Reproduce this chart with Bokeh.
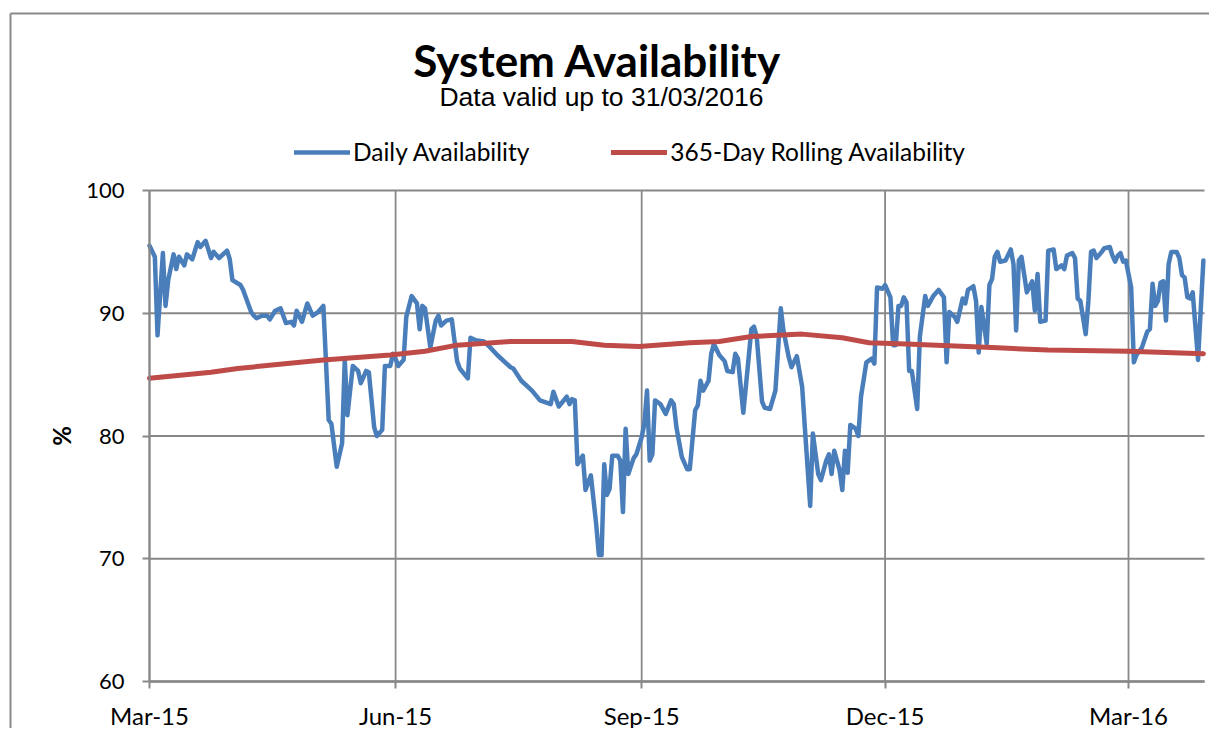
import math
import pandas as pd
from bokeh.plotting import figure
from bokeh.models import Range1d, FixedTicker, Label, Legend, LegendItem
from bokeh.embed import file_html
from bokeh.resources import INLINE

# ---------------- data ----------------
start_date = "2015-03-01"
tick_dates = ["2015-03-01", "2015-06-01", "2015-09-01", "2015-12-01", "2016-03-01"]
tick_labels = ["Mar-15", "Jun-15", "Sep-15", "Dec-15", "Mar-16"]
y_ticks = [60, 70, 80, 90, 100]

# days after 2015-03-01
daily_day = [
    0, 2, 3, 5, 6, 7, 9, 10, 11, 13, 14, 16, 18, 19, 21, 23, 24, 26, 29, 30,
    31, 34, 35, 38, 39, 40, 42, 44, 45, 47, 49, 51, 53, 54, 55, 57, 59, 61, 63, 65,
    67, 68, 70, 72, 73, 74, 76, 78, 79, 81, 82, 84, 85, 87, 88, 90, 91, 92, 93, 95,
    96, 98, 100, 101, 102, 103, 105, 107, 108, 109, 111, 113, 115, 116, 119, 120, 122, 125, 127, 130,
    135, 136, 139, 143, 146, 150, 151, 153, 156, 157, 158, 159, 160, 162, 163, 165, 167, 168, 169, 170,
    171, 172, 173, 175, 176, 177, 178, 179, 181, 182, 184, 185, 186, 187, 188, 189, 191, 193, 195, 196,
    197, 199, 201, 202, 204, 205, 206, 207, 209, 210, 211, 213, 215, 216, 218, 219, 220, 222, 224, 225,
    226, 227, 229, 230, 232, 234, 236, 237, 239, 240, 242, 244, 245, 247, 248, 250, 251, 253, 254, 255,
    256, 258, 259, 260, 261, 262, 264, 265, 266, 268, 270, 271, 272, 274, 275, 277, 278, 279, 280, 281,
    282, 283, 284, 285, 287, 288, 290, 291, 293, 295, 297, 298, 299, 301, 302, 304, 305, 306, 308, 309,
    310, 311, 313, 314, 315, 316, 317, 318, 320, 322, 323, 324, 325, 326, 328, 330, 331, 332, 333, 335,
    336, 338, 339, 341, 342, 343, 345, 346, 347, 348, 350, 351, 352, 353, 354, 356, 357, 359, 360, 361,
    362, 363, 364, 365, 367, 368, 369, 371, 373, 374, 375, 376, 377, 378, 379, 380, 381, 382, 384, 385,
    386, 387, 388, 389, 390, 392, 394,
]
daily_value = [
    95.5, 94.6, 88.2, 94.9, 90.6, 92.7, 94.8, 93.6, 94.6, 93.9, 94.8, 94.4, 95.8, 95.4, 95.9, 94.5, 95.0, 94.5, 95.1, 94.4,
    92.7, 92.3, 91.9, 90.1, 89.8, 89.6, 89.8, 89.8, 89.5, 90.2, 90.4, 89.2, 89.3, 89.0, 90.2, 89.3, 90.8, 89.8, 90.1, 90.6,
    81.3, 81.0, 77.5, 79.4, 86.2, 81.7, 85.7, 85.3, 84.3, 85.3, 85.2, 80.7, 80.0, 80.5, 85.7, 85.7, 86.7, 86.3, 85.7, 86.2,
    89.7, 91.4, 90.8, 88.7, 90.6, 90.4, 87.2, 89.4, 89.8, 89.0, 89.4, 89.5, 86.1, 85.5, 84.7, 88.0, 87.8, 87.7, 87.3, 86.6,
    85.6, 85.5, 84.5, 83.7, 82.9, 82.6, 83.6, 82.4, 83.2, 82.6, 83.0, 82.9, 77.7, 78.4, 75.6, 76.8, 72.8, 70.3, 70.3, 77.7,
    75.2, 75.7, 78.4, 78.4, 78.0, 73.8, 80.6, 76.9, 78.2, 78.5, 79.9, 81.0, 83.7, 78.0, 78.5, 82.9, 82.6, 81.8, 82.9, 82.6,
    80.7, 78.3, 77.3, 77.3, 82.1, 82.5, 84.5, 83.7, 84.5, 86.7, 87.5, 86.6, 86.1, 85.3, 85.2, 86.7, 86.3, 81.9, 86.4, 88.7,
    88.9, 88.1, 82.8, 82.3, 82.2, 83.7, 90.4, 88.6, 86.4, 85.6, 86.5, 84.0, 80.7, 74.3, 80.2, 76.9, 76.4, 78.0, 78.5, 76.9,
    78.8, 77.2, 75.6, 78.8, 77.0, 80.9, 80.6, 80.0, 83.2, 86.0, 86.3, 85.9, 92.1, 92.0, 92.3, 91.3, 87.4, 87.4, 90.6, 90.6,
    91.3, 90.9, 85.3, 85.3, 82.2, 88.1, 91.4, 90.6, 91.4, 91.9, 91.3, 86.0, 90.1, 89.7, 89.3, 91.2, 90.8, 91.9, 92.2, 91.0,
    86.8, 90.5, 87.5, 92.3, 92.8, 94.6, 95.0, 94.2, 94.3, 95.2, 94.0, 88.6, 94.3, 94.6, 91.7, 92.6, 90.2, 93.2, 89.3, 89.4,
    95.1, 95.2, 93.6, 93.9, 93.6, 94.7, 94.9, 94.5, 91.2, 91.0, 88.3, 91.0, 95.0, 95.1, 94.5, 95.0, 95.3, 95.4, 94.7, 94.2,
    94.7, 94.9, 94.2, 94.3, 92.1, 86.0, 86.6, 87.2, 88.5, 88.7, 92.4, 90.6, 91.0, 92.5, 92.6, 89.4, 94.0, 95.0, 95.0, 94.5,
    93.1, 92.9, 91.3, 91.2, 91.7, 86.2, 94.3,
]

rolling_day = [0, 23, 33, 65, 90, 103, 115, 135, 158, 170, 183, 202, 213, 225, 244, 259, 269, 283, 315, 336, 366, 394]
rolling_value = [84.7, 85.2, 85.5, 86.2, 86.6, 86.9, 87.4, 87.7, 87.7, 87.4, 87.3, 87.6, 87.7, 88.1, 88.3, 88.0,
                 87.6, 87.5, 87.2, 87.0, 86.9, 86.7]

assert len(daily_day) == len(daily_value)
assert len(rolling_day) == len(rolling_value)

tick_pos = [int(d) for d in (pd.to_datetime(tick_dates) - pd.Timestamp(start_date)).days]

# ---------------- layout constants (page pixels) ----------------
GRID = "#888888"
FRAME = "#8a8a8a"
BLUE = "#4A7EBB"
RED = "#BE4B48"
W, H = 1206, 724
OFF = 6                       # canvas origin on the page
PAGE_X0 = 150                 # x of the Mar-15 axis
PAGE_XEND = 1205              # right edge of plotting area
PAGE_Y60, PAGE_Y100 = 681, 190
PAGE_BORDER_X, PAGE_BORDER_Y = 11, 13   # outer chart-area border
Y_MIN, Y_MAX = 60, 100
px_per_day = (1129 - PAGE_X0) / tick_pos[-1]
px_per_unit = (PAGE_Y60 - PAGE_Y100) / (Y_MAX - Y_MIN)
x_end = (PAGE_XEND - PAGE_X0) / px_per_day
x_start = -(PAGE_X0 - OFF) / px_per_day
x_stop = (OFF + W - PAGE_X0) / px_per_day
y_start = Y_MIN - (OFF + H - PAGE_Y60) / px_per_unit
y_stop = Y_MIN + (PAGE_Y60 - OFF) / px_per_unit
x_border = -(PAGE_X0 - PAGE_BORDER_X) / px_per_day
y_border = Y_MAX + (PAGE_Y100 - PAGE_BORDER_Y) / px_per_unit


def sx(page_x):
    return page_x - OFF


def sy(page_y):
    return OFF + H - page_y


p = figure(
    width=W, height=H,
    output_backend="svg", toolbar_location=None,
    x_range=Range1d(x_start, x_stop), y_range=Range1d(y_start, y_stop),
    min_border_left=0, min_border_right=0, min_border_top=0, min_border_bottom=0,
)
p.styles = {
    "margin-left": "3px", "margin-top": "4px",
    "border-left": "2px solid white", "border-top": "2px solid white",
}
p.outline_line_color = None
p.background_fill_color = "white"
p.border_fill_color = "white"
p.xgrid.visible = False
p.ygrid.visible = False

# outer chart-area border (left and top edges)
p.segment(x0=[x_border, x_border], y0=[y_border, y_border], x1=[x_border, x_stop], y1=[y_start, y_border],
          line_color=FRAME, line_width=2)

# grid lines (only inside the plotting area)
p.segment(x0=tick_pos, y0=[Y_MIN] * len(tick_pos), x1=tick_pos, y1=[Y_MAX] * len(tick_pos),
          line_color=GRID, line_width=1.8)
p.segment(x0=[0] * len(y_ticks), y0=y_ticks, x1=[x_end] * len(y_ticks), y1=y_ticks,
          line_color=GRID, line_width=1.8)

r_daily = p.line(daily_day, daily_value, line_color=BLUE, line_width=4.5, line_join="round", line_cap="round")
r_roll = p.line(rolling_day, rolling_value, line_color=RED, line_width=5, line_join="round", line_cap="round")

# axes
p.xaxis.ticker = FixedTicker(ticks=tick_pos)
p.xaxis.major_label_overrides = dict(zip(tick_pos, tick_labels))
p.xaxis.bounds = (0, x_end)
p.xaxis.fixed_location = Y_MIN
p.yaxis.ticker = FixedTicker(ticks=y_ticks)
p.yaxis.bounds = (Y_MIN, Y_MAX)
p.yaxis.fixed_location = 0
for ax in (p.xaxis, p.yaxis):
    ax.axis_line_color = GRID
    ax.axis_line_width = 2
    ax.major_tick_line_color = GRID
    ax.major_tick_line_width = 2
    ax.major_tick_out = 7
    ax.major_tick_in = 0
    ax.minor_tick_line_color = None
    ax.major_label_text_font = "Lato"
    ax.major_label_text_color = "black"
p.xaxis.axis_line_width = 2.5
p.xaxis.major_label_text_font_size = "24px"
p.yaxis.major_label_text_font_size = "22px"
p.xaxis.major_label_standoff = 12
p.yaxis.major_label_standoff = 18

# y-axis title
p.add_layout(Label(
    x=sx(62), y=sy(435.5), x_units="screen", y_units="screen", text="%", angle=math.pi / 2,
    text_align="center", text_baseline="middle", text_font="Lato",
    text_font_style="bold", text_font_size="24px", text_color="black"))

# titles
p.add_layout(Label(
    x=sx(598), y=sy(59), x_units="screen", y_units="screen", text="System Availability",
    text_align="center", text_baseline="middle", text_font="Lato",
    text_font_style="bold", text_font_size="44px", text_color="black"))
p.add_layout(Label(
    x=sx(602), y=sy(96.5), x_units="screen", y_units="screen", text="Data valid up to 31/03/2016",
    text_align="center", text_baseline="middle", text_font="Liberation Sans",
    text_font_size="26.5px", text_color="black"))

legend = Legend(
    items=[LegendItem(label="Daily Availability", renderers=[r_daily]),
           LegendItem(label="365-Day Rolling Availability", renderers=[r_roll])],
    orientation="horizontal", location=(sx(295), sy(166)),
    glyph_width=56, glyph_height=22, label_height=22, label_standoff=3, spacing=82,
    padding=0, margin=0, border_line_color=None, background_fill_alpha=0,
    label_text_font="Lato", label_text_font_size="24.5px", label_text_color="black",
)
p.add_layout(legend)

open("out.html", "w").write(file_html(p, INLINE))
